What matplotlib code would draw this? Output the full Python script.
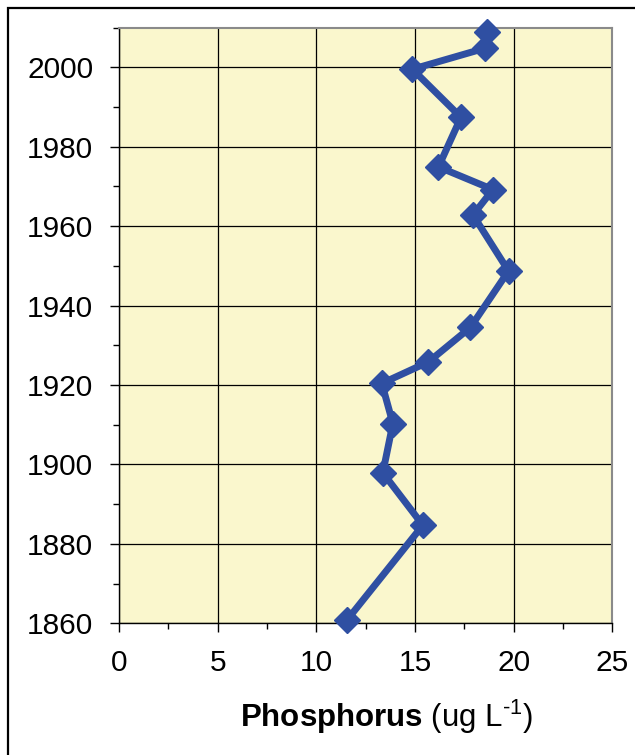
import matplotlib
matplotlib.use("Agg")
import matplotlib.pyplot as plt
from matplotlib.patches import Rectangle
from matplotlib.ticker import MultipleLocator

plt.rcParams["font.family"] = ["Liberation Sans", "DejaVu Sans"]
plt.rcParams["mathtext.fontset"] = "custom"
plt.rcParams["mathtext.rm"] = "Liberation Sans"
plt.rcParams["mathtext.bf"] = "Liberation Sans:bold"

# phosphorus (ug/L) by year
phosphorus = [18.65, 18.56, 14.87, 17.33, 16.19, 18.95, 17.94, 19.74,
              17.81, 15.68, 13.32, 13.88, 13.37, 15.40, 11.55]
years = [2008.9, 2004.8, 1999.5, 1987.4, 1974.9, 1969.2, 1962.8, 1948.7,
         1934.5, 1925.8, 1920.4, 1910.3, 1897.9, 1884.7, 1860.8]

BLUE = "#2F4FA2"
BG = "#FAF7CD"

fig = plt.figure(figsize=(6.35, 7.55), dpi=100)
ax = fig.add_axes([119 / 635, 1 - 623.3 / 755, (612.3 - 119) / 635,
                   (623.3 - 27.5) / 755])
ax.set_facecolor(BG)

ax.plot(phosphorus, years, color=BLUE, lw=5, marker="D", ms=13,
        mec=BLUE, mfc=BLUE, solid_joinstyle="miter", clip_on=False, zorder=3)

ax.set_xlim(0, 25)
ax.set_ylim(1860, 2010)
ax.xaxis.set_major_locator(MultipleLocator(5))
ax.xaxis.set_minor_locator(MultipleLocator(2.5))
ax.yaxis.set_major_locator(MultipleLocator(20))
ax.yaxis.set_minor_locator(MultipleLocator(10))
ax.grid(which="major", color="black", lw=0.9)
ax.set_axisbelow(True)

ax.tick_params(which="major", length=6.5, width=1, labelsize=21.5, pad=12)
ax.tick_params(which="minor", length=4.5, width=1)
for s in ("left", "bottom"):
    ax.spines[s].set_color("black")
    ax.spines[s].set_linewidth(1)
for s in ("top", "right"):
    ax.spines[s].set_color("#8a8a8a")
    ax.spines[s].set_linewidth(1.5)

fig.text(386.5 / 635, 1 - 726.7 / 755,
         r"$\mathbf{Phosphorus}$ (ug L$^{\text{-1}}$)",
         ha="center", va="baseline", fontsize=22.5)

# outer frame, running off the right and bottom edges
fig.patches.append(Rectangle((8 / 635, -0.05), 1.2, 1 - 8 / 755 + 0.05,
                             transform=fig.transFigure, fill=False,
                             ec="black", lw=1.6))

fig.savefig("out.png", dpi=100, facecolor="white")
